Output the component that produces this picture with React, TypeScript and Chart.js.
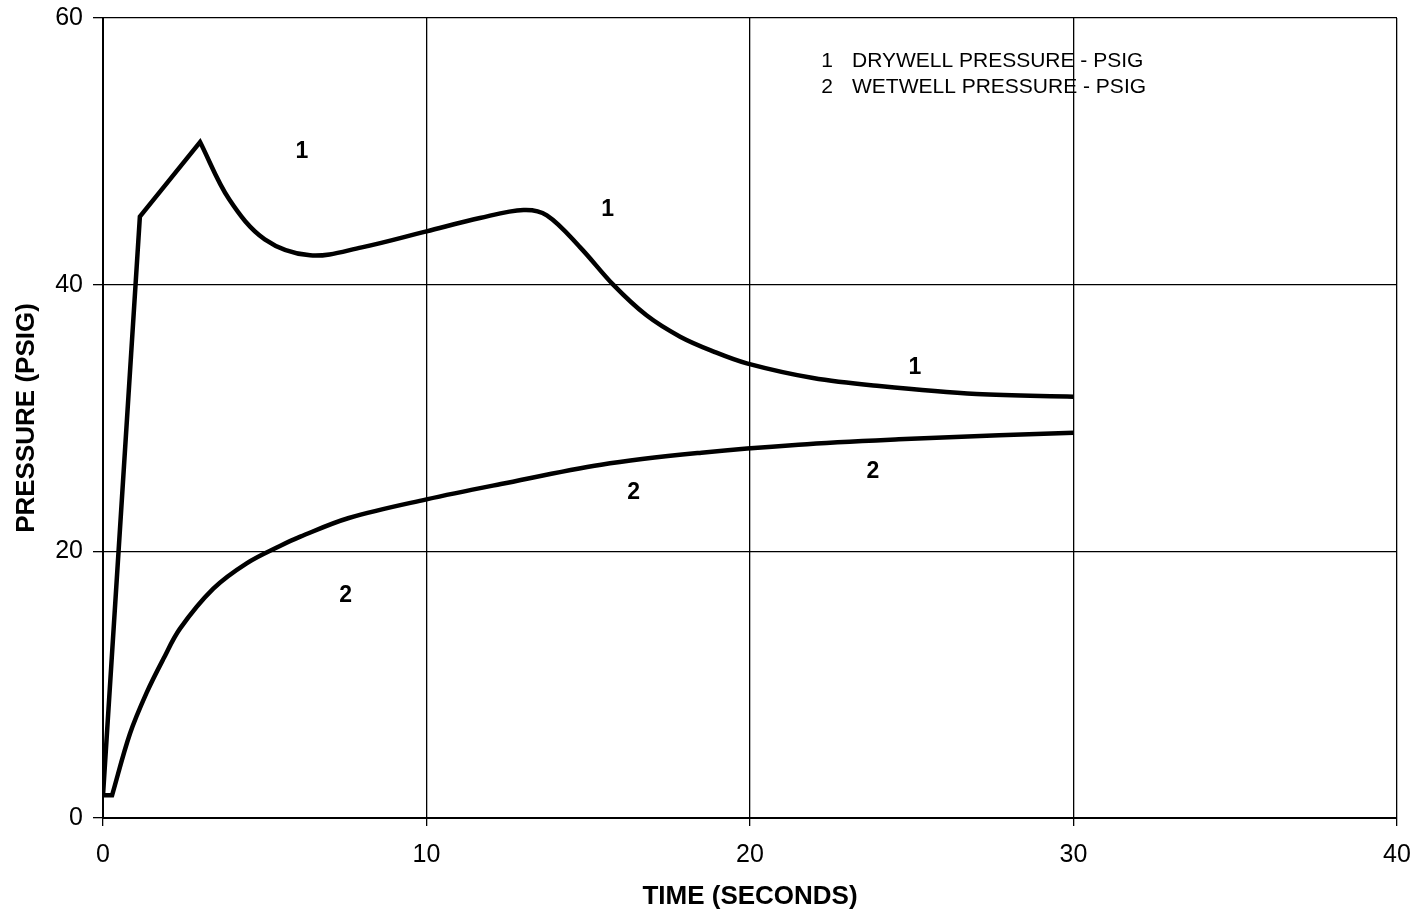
import React, { useEffect, useRef } from "react";
import { Chart, registerables } from "chart.js";

Chart.register(...registerables);

// Drywell pressure (psig) vs time (s); kink points duplicated for sharp corners
const drywellTime = [0, 1.14, 1.14, 3.0, 3.0, 3.9, 5.0, 6.4, 8.0, 10, 11.65, 13.0, 13.72, 14.75, 15.77, 16.8, 17.84, 18.86, 19.9, 21.95, 24, 27, 30];
const drywellPressure = [1.7, 45.1, 45.1, 50.7, 50.7, 46.4, 43.4, 42.2, 42.8, 44.0, 45.0, 45.6, 45.2, 42.8, 40.0, 37.7, 36.1, 35.0, 34.1, 33.0, 32.4, 31.8, 31.6];

// Wetwell pressure (psig) vs time (s)
const wetwellTime = [0, 0.28, 0.28, 0.83, 1.35, 1.86, 2.38, 3.41, 4.44, 5.47, 6.1, 7.6, 10, 12.3, 15.4, 18.5, 21.5, 24.6, 27.7, 30];
const wetwellPressure = [1.7, 1.7, 1.7, 6.3, 9.4, 11.9, 14.2, 17.2, 19.1, 20.4, 21.1, 22.5, 23.9, 25.05, 26.5, 27.4, 28.0, 28.4, 28.7, 28.9];

// Curve number labels placed on the plot
const curveLabelText = ["1", "1", "1", "2", "2", "2"];
const curveLabelX = [6.15, 15.6, 25.1, 7.5, 16.4, 23.8];
const curveLabelY = [50.0, 45.6, 33.8, 16.7, 24.4, 26.0];

// Legend
const legendNumbers = ["1", "2"];
const legendTexts = ["DRYWELL PRESSURE - PSIG", "WETWELL PRESSURE - PSIG"];
const legendX = 22.38;
const legendY = [56.75, 54.8];

const xTitle = "TIME (SECONDS)";
const yTitle = "PRESSURE (PSIG)";

const FONT = "'Liberation Sans', Arial, sans-serif";

const annotPlugin = {
  id: "annot",
  afterDatasetsDraw(chart: any) {
    const { ctx, scales } = chart;
    const xs = scales.x;
    const ys = scales.y;
    ctx.save();
    ctx.fillStyle = "#000";
    ctx.textBaseline = "middle";
    ctx.textAlign = "center";
    ctx.font = `bold 23px ${FONT}`;
    for (let i = 0; i < curveLabelText.length; i++) {
      ctx.fillText(curveLabelText[i], xs.getPixelForValue(curveLabelX[i]), ys.getPixelForValue(curveLabelY[i]));
    }
    ctx.font = `21px ${FONT}`;
    for (let i = 0; i < legendNumbers.length; i++) {
      const px = xs.getPixelForValue(legendX);
      const py = ys.getPixelForValue(legendY[i]);
      ctx.textAlign = "center";
      ctx.fillText(legendNumbers[i], px, py);
      ctx.textAlign = "left";
      ctx.fillText(legendTexts[i], px + 25, py);
    }
    ctx.restore();
  },
};

export default function App() {
  const ref = useRef<HTMLCanvasElement>(null);
  useEffect(() => {
    const chart = new Chart(ref.current!, {
      type: "line",
      data: {
        datasets: [
          {
            data: drywellTime.map((t, i) => ({ x: t, y: drywellPressure[i] })),
            borderColor: "#000",
            borderWidth: 4.5,
            pointRadius: 0,
            tension: 0.35,
            fill: false,
          },
          {
            data: wetwellTime.map((t, i) => ({ x: t, y: wetwellPressure[i] })),
            borderColor: "#000",
            borderWidth: 4.5,
            pointRadius: 0,
            tension: 0.35,
            fill: false,
          },
        ],
      },
      options: {
        animation: false,
        responsive: false,
        layout: { padding: { top: 18, right: 18, left: 0, bottom: 0 } },
        plugins: { legend: { display: false }, tooltip: { enabled: false } },
        scales: {
          x: {
            type: "linear",
            min: 0,
            max: 40,
            ticks: { stepSize: 10, color: "#000", font: { size: 25, family: FONT }, padding: 14 },
            grid: { color: "#000", lineWidth: 1.3, tickLength: 8 },
            border: { color: "#000", width: 2 },
            title: { display: true, text: xTitle, color: "#000", font: { size: 26, weight: "bold", family: FONT }, padding: { top: 4, bottom: 10 } },
            afterFit: (s: any) => {
              s.height = 922 - 818;
              s.paddingLeft = 0;
              s.paddingRight = 0;
            },
          },
          y: {
            min: 0,
            max: 60,
            ticks: { stepSize: 20, color: "#000", font: { size: 25, family: FONT }, padding: 10 },
            grid: { color: "#000", lineWidth: 1.3, tickLength: 10 },
            border: { color: "#000", width: 2 },
            title: { display: true, text: yTitle, color: "#000", font: { size: 26, weight: "bold", family: FONT }, padding: { top: 11, bottom: 4 } },
            afterFit: (s: any) => {
              s.width = 103;
              s.paddingTop = 0;
              s.paddingBottom = 0;
            },
          },
        },
      },
      plugins: [annotPlugin],
    } as any);
    return () => chart.destroy();
  }, []);
  return (
    <div style={{ position: "fixed", left: 0, top: 0, width: 1415, height: 922, background: "#fff" }}>
      <canvas ref={ref} width={1415} height={922} />
    </div>
  );
}
